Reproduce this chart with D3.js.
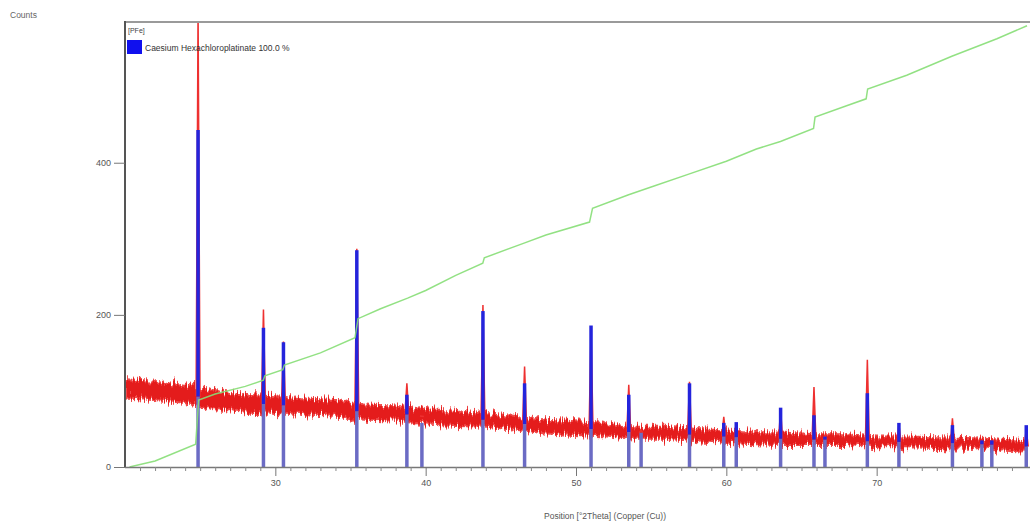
<!DOCTYPE html>
<html>
<head>
<meta charset="utf-8">
<script src="https://cdn.jsdelivr.net/npm/d3@7/dist/d3.min.js"></script>
<style>
  html, body { margin: 0; padding: 0; background: #fff; }
  svg { display: block; font-family: "Liberation Sans", Arial, sans-serif; }
</style>
</head>
<body>
<svg id="chart" width="1030" height="523"></svg>
<script>
// ---- data ----
const xTicks = [30, 40, 50, 60, 70];
const yTicks = [0, 200, 400];

// background of the observed scan (centre of the noisy band) and its half-width
const bgTheta = [20, 22, 24, 26, 28, 30, 32, 34, 36, 38, 40, 42, 44, 46, 48, 50, 52, 54, 56, 58, 60, 62, 64, 66, 68, 70, 72, 74, 76, 78, 80];
const bgMid   = [102, 100, 96, 88, 84, 82, 79, 77, 72, 71, 66, 64, 62, 58, 53, 51, 49, 45, 45, 42, 40, 38, 37, 36, 36, 33, 33, 32, 31, 29, 27];
const bgHalf  = [12, 12, 12, 12, 11, 11, 11, 11, 10, 10, 10, 10, 9, 9, 9, 9, 9, 8, 8, 8, 8, 8, 8, 7, 7, 7, 7, 7, 7, 7, 7];

// reference pattern (Caesium Hexachloroplatinate) stick positions & intensities
const peakPos = [24.86, 29.21, 30.54, 35.42, 38.75, 39.75, 43.81, 46.58, 51.00, 53.51, 54.33, 57.55, 59.83, 60.66, 63.61, 65.83, 66.56, 69.38, 71.48, 75.04, 77.00, 77.66, 79.95];
const refInt  = [443, 183, 164, 285, 95, 58, 205, 110, 186, 95, 45, 110, 58, 59, 78, 68, 40, 97, 58, 55, 35, 35, 55];
// observed peak maxima (red scan)
const obsInt  = [600, 207, 165, 287, 110, 60, 213, 132, 180, 108, 48, 112, 66, 58, 76, 105, 42, 141, 56, 64, 36, 36, 50];

// green (cumulative) curve
const greenTheta = [20.3, 22, 24.7, 24.9, 26, 28, 29.2, 29.3, 30.5, 30.6, 33, 35.3, 35.5, 37, 38.8, 40, 42, 43.8, 43.9, 46.5, 48, 50.9, 51.1, 53.5, 55, 57.5, 60, 62, 63.6, 65.8, 65.9, 68, 69.3, 69.4, 72, 75, 78, 80];
const greenVal   = [0, 8, 30, 88, 96, 106, 114, 120, 128, 134, 150, 170, 195, 208, 222, 232, 252, 268, 275, 294, 305, 322, 340, 358, 368, 385, 402, 418, 428, 445, 460, 475, 484, 497, 515, 540, 563, 580];

const legendTitle = "[PFe]";
const legendLabel = "Caesium Hexachloroplatinate 100.0 %";
const yTitle = "Counts";
const xTitle = "Position [°2Theta] (Copper (Cu))";

// ---- layout ----
const svg = d3.select("#chart");
const L = 125, R = 1027, T = 22, B = 467;
const x = d3.scaleLinear().domain([20, 80]).range([L, R]);
const y = d3.scaleLinear().domain([0, 585]).range([B, T]);

const bgAt = d3.scaleLinear().domain(bgTheta).range(bgMid);

const defs = svg.append("defs");
defs.append("clipPath").attr("id", "plotclip")
  .append("rect").attr("x", L).attr("y", T).attr("width", 1030 - L).attr("height", B - T);
// texture filter to give the scan band its grainy, spiky look
const f = defs.append("filter").attr("id", "grain")
  .attr("x", "-1%").attr("y", "-40%").attr("width", "102%").attr("height", "180%");
f.append("feTurbulence").attr("type", "fractalNoise").attr("baseFrequency", "0.7 0.03")
  .attr("numOctaves", 2).attr("seed", 4).attr("result", "t");
f.append("feDisplacementMap").attr("in", "SourceGraphic").attr("in2", "t")
  .attr("scale", 16).attr("xChannelSelector", "G").attr("yChannelSelector", "R");

const plot = svg.append("g").attr("clip-path", "url(#plotclip)");

// noisy band of observed scan
const band = bgTheta.map((t, i) => ({ t, lo: bgMid[i] - bgHalf[i], hi: bgMid[i] + bgHalf[i] }));
const bandG = plot.append("g").attr("filter", "url(#grain)");
bandG.append("path")
  .datum(band)
  .attr("d", d3.area().x(d => x(d.t)).y0(d => y(d.lo)).y1(d => y(d.hi)))
  .attr("fill", "#e41a1a")
  .attr("stroke", "#f04848")
  .attr("stroke-width", 2);

// observed peaks (red spikes)
const obsPeaks = peakPos.map((p, i) => [
  [p - 0.13, bgAt(p - 0.13)],
  [p, Math.max(obsInt[i], bgAt(p))],
  [p + 0.13, bgAt(p + 0.13)]
]);
plot.selectAll("path.obs")
  .data(obsPeaks)
  .join("path")
  .attr("class", "obs")
  .attr("d", d3.line().x(d => x(d[0])).y(d => y(d[1])))
  .attr("fill", "#e8262a")
  .attr("stroke", "#ee3030")
  .attr("stroke-width", 1.5);

// reference sticks: lower part (under the scan) and upper part
const sticks = peakPos.map((p, i) => ({ p, v: refInt[i], b: Math.min(refInt[i], bgAt(p)) }));
plot.selectAll("line.stickLo")
  .data(sticks)
  .join("line")
  .attr("class", "stickLo")
  .attr("x1", d => x(d.p)).attr("x2", d => x(d.p))
  .attr("y1", y(0)).attr("y2", d => y(d.b))
  .attr("stroke", "#6b6bc4")
  .attr("stroke-width", 3.5);
plot.selectAll("line.stickHi")
  .data(sticks.filter(d => d.v > d.b))
  .join("line")
  .attr("class", "stickHi")
  .attr("x1", d => x(d.p)).attr("x2", d => x(d.p))
  .attr("y1", d => y(d.b)).attr("y2", d => y(d.v))
  .attr("stroke", "#2424dc")
  .attr("stroke-width", 3.5);

// green curve
plot.append("path")
  .datum(greenTheta.map((t, i) => [t, greenVal[i]]))
  .attr("d", d3.line().x(d => x(d[0])).y(d => y(d[1])))
  .attr("fill", "none")
  .attr("stroke", "#86de76")
  .attr("stroke-width", 1.5)
  .attr("opacity", 0.9);

// ---- frame ----
svg.append("line").attr("x1", L).attr("x2", 1030).attr("y1", T).attr("y2", T)
  .attr("stroke", "#9a9a9a").attr("stroke-width", 2);
svg.append("line").attr("x1", L).attr("x2", L).attr("y1", T - 1).attr("y2", B)
  .attr("stroke", "#555").attr("stroke-width", 2);
svg.append("line").attr("x1", L).attr("x2", 1030).attr("y1", B + 0.5).attr("y2", B + 0.5)
  .attr("stroke", "#777").attr("stroke-width", 1.5);

// ---- axes ----
const xMinor = d3.axisBottom(x).tickValues(d3.range(21, 81, 1).filter(v => v % 10 !== 0))
  .tickSize(4).tickFormat("");
const gxm = svg.append("g").attr("transform", `translate(0,${B})`).call(xMinor);
gxm.select(".domain").remove();
gxm.selectAll("line").attr("stroke", "#888");

const xAxis = d3.axisBottom(x).tickValues(xTicks).tickSize(9).tickPadding(4).tickFormat(d3.format("d"));
const gx = svg.append("g").attr("transform", `translate(0,${B})`).call(xAxis);
gx.select(".domain").remove();
gx.selectAll("line").attr("stroke", "#777");
gx.selectAll("text").attr("fill", "#555").attr("font-size", 9);

const yAxis = d3.axisLeft(y).tickValues(yTicks).tickSize(11).tickPadding(3).tickFormat(d3.format("d"));
const gy = svg.append("g").attr("transform", `translate(${L},0)`).call(yAxis);
gy.select(".domain").remove();
gy.selectAll("line").attr("stroke", "#777");
gy.selectAll("text").attr("fill", "#555").attr("font-size", 9);

// titles
svg.append("text").attr("x", 10).attr("y", 18).text(yTitle)
  .attr("font-size", 8.5).attr("fill", "#666");
svg.append("text").attr("x", 605).attr("y", 519).attr("text-anchor", "middle").text(xTitle)
  .attr("font-size", 8.5).attr("fill", "#555");

// legend
svg.append("text").attr("x", 128).attr("y", 33).text(legendTitle)
  .attr("font-size", 7).attr("fill", "#444");
svg.append("rect").attr("x", 127).attr("y", 40).attr("width", 15).attr("height", 14).attr("fill", "#1010ee");
svg.append("text").attr("x", 145).attr("y", 51).text(legendLabel)
  .attr("font-size", 8.5).attr("fill", "#333");
</script>
</body>
</html>
